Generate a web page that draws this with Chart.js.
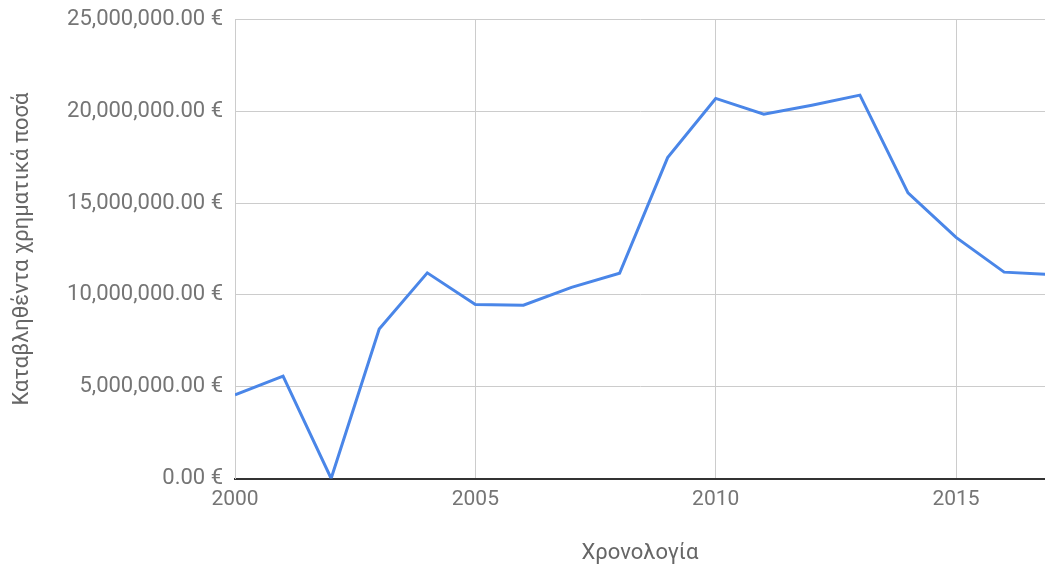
<!DOCTYPE html>
<html>
<head>
<meta charset="utf-8">
<script src="https://cdn.jsdelivr.net/npm/chart.js@4"></script>
<style>
  html, body { margin: 0; padding: 0; background: #fff; }
  #wrap { width: 1045px; height: 567px; }
</style>
</head>
<body>
<div id="wrap"><canvas id="myChart" width="1045" height="567"></canvas></div>
<script>
// years and paid amounts (euro)
var years = [2000, 2001, 2002, 2003, 2004, 2005, 2006, 2007, 2008,
             2009, 2010, 2011, 2012, 2013, 2014, 2015, 2016, 2017];
var amounts = [4550000, 5580000, 0, 8140000, 11200000, 9480000, 9440000, 10410000, 11180000,
               17480000, 20700000, 19840000, 20330000, 20880000, 15560000, 13130000, 11240000, 11100000];
var xTicks = [2000, 2005, 2010, 2015];
var yTicks = [0, 5000000, 10000000, 15000000, 20000000, 25000000];
var yLabel = "Καταβληθέντα χρηματικά ποσά";
var xLabel = "Χρονολογία";

window.onload = function () {
    var ctx = document.getElementById("myChart").getContext("2d");
    var points = years.map(function (y, i) { return { x: y, y: amounts[i] }; });

    var data = {
    datasets : [
        {
            data : points,
            borderColor: "#4a86e8",
            borderWidth: 3,
            pointRadius: 0,
            tension: 0,
            fill: false
        }
    ]};

    var myLineChart = new Chart(ctx, {
    type: 'line',
    data: data,
    options: {
        responsive: false,
        animation: false,
        devicePixelRatio: 1,
        layout: { padding: { top: 19.5, right: 0, left: 0, bottom: 0 } },
        plugins: { legend: { display: false }, tooltip: { enabled: false } },
        scales: {
            x: {
                type: 'linear',
                min: 2000,
                max: 2016.85,
                afterBuildTicks: function (scale) {
                    scale.ticks = xTicks.map(function (v) { return { value: v }; });
                },
                afterFit: function (scale) {
                    scale.height = 88.5;
                    scale.paddingLeft = 0;
                    scale.paddingRight = 0;
                },
                grid: { color: "#cccccc", lineWidth: 1, drawTicks: false },
                border: { color: "#333333", width: 2 },
                ticks: {
                    padding: 9,
                    maxRotation: 0,
                    color: "#757575",
                    font: { family: "Roboto", size: 21 },
                    callback: function (v) { return String(v); }
                },
                title: {
                    display: true,
                    text: xLabel,
                    color: "#666666",
                    font: { family: "Roboto", size: 22 },
                    padding: { top: 0, bottom: 0 }
                }
            },
            y: {
                min: 0,
                max: 25000000,
                afterBuildTicks: function (scale) {
                    scale.ticks = yTicks.map(function (v) { return { value: v }; });
                },
                afterFit: function (scale) {
                    scale.width = 235;
                    scale.paddingTop = 0;
                    scale.paddingBottom = 0;
                },
                grid: { color: "#cccccc", lineWidth: 1, drawTicks: false },
                border: { color: "#cccccc", width: 1 },
                ticks: {
                    padding: 12,
                    color: "#757575",
                    font: { family: "Roboto", size: 22 },
                    callback: function (v) {
                        return v.toLocaleString('en-US', { minimumFractionDigits: 2, maximumFractionDigits: 2 }) + " €";
                    }
                },
                title: {
                    display: true,
                    text: yLabel,
                    color: "#666666",
                    font: { family: "Roboto", size: 22 },
                    padding: { top: 9, bottom: 0 }
                }
            }
        }
    }
    });
};
</script>
</body>
</html>
